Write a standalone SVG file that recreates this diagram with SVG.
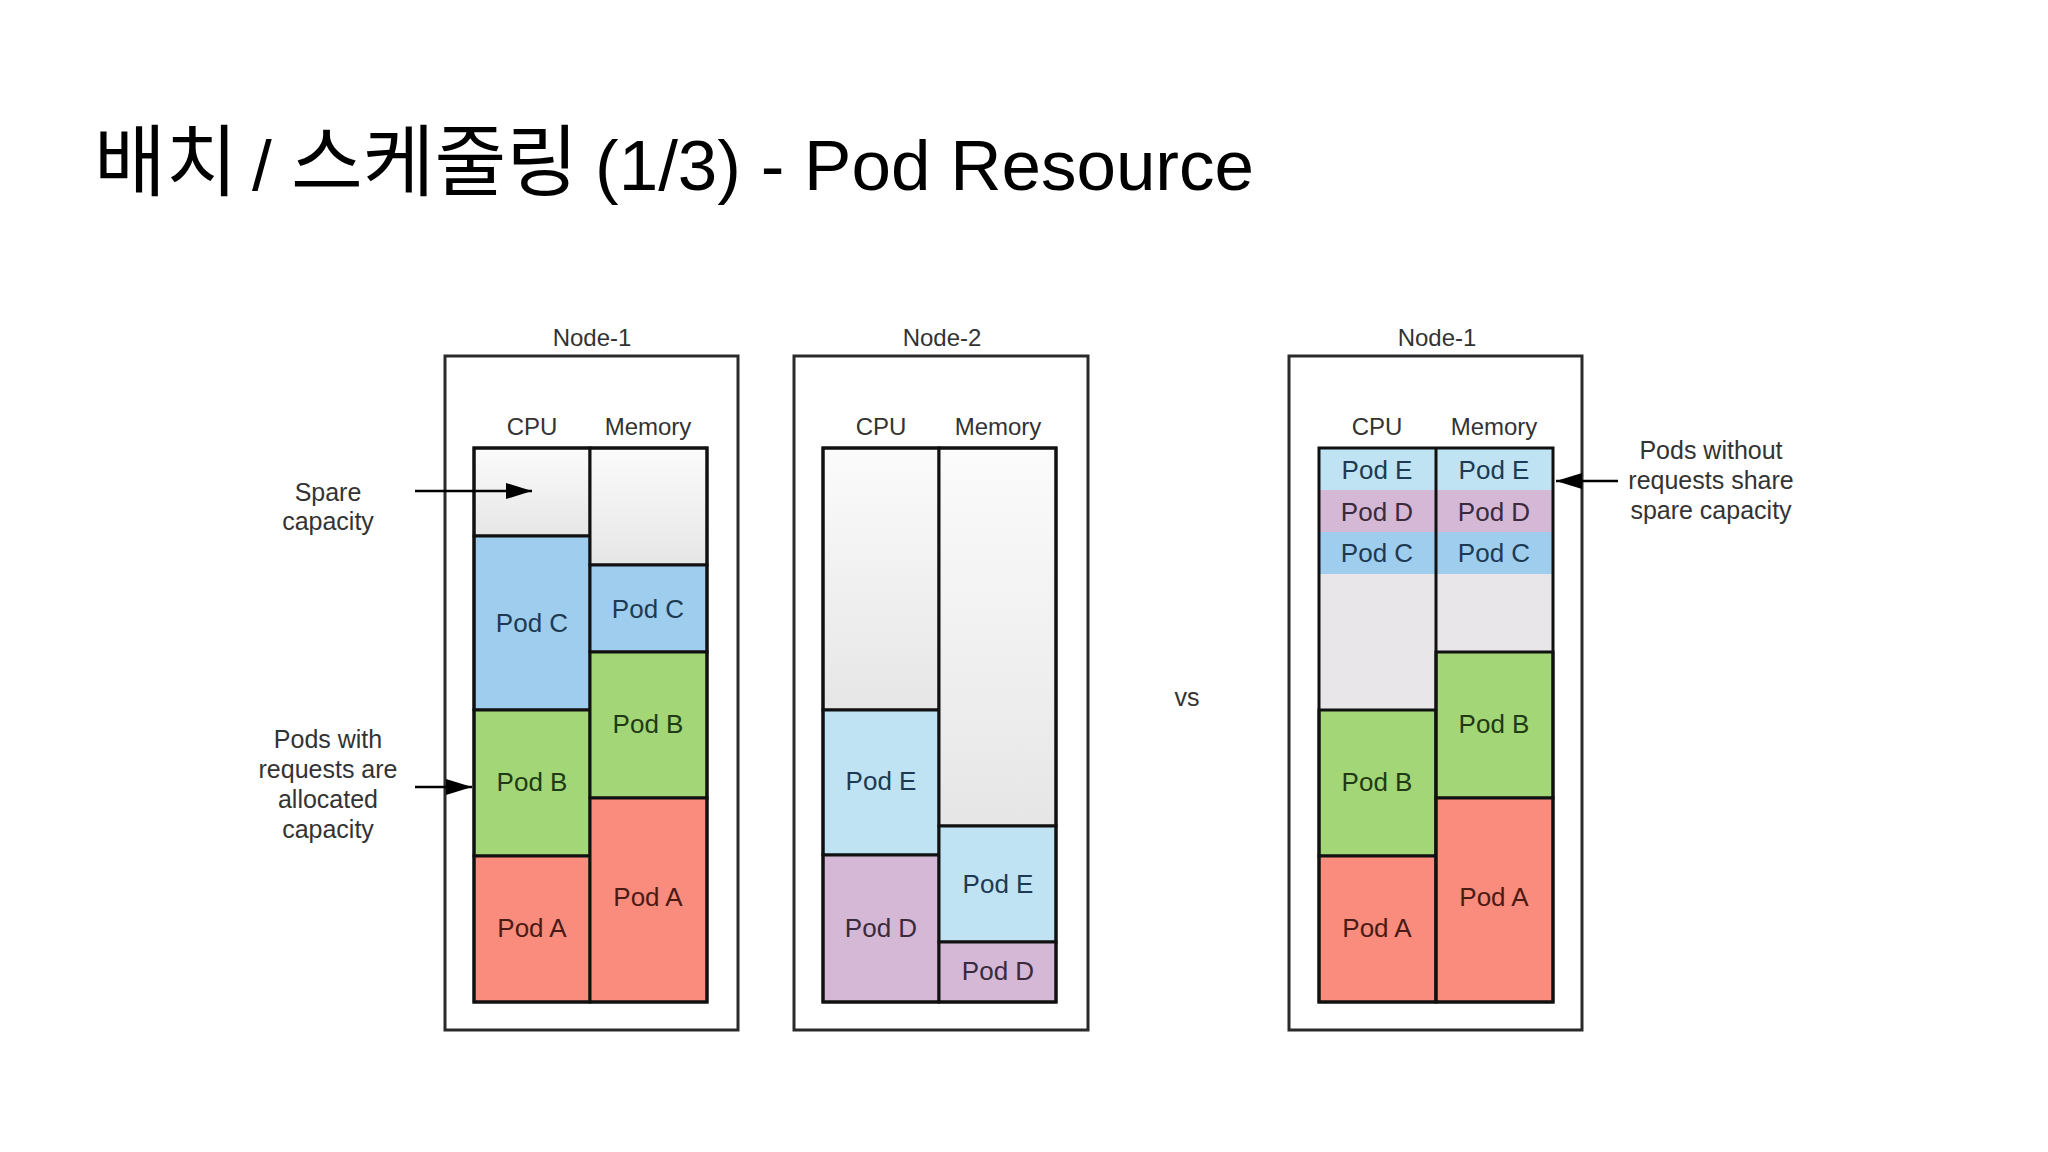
<svg xmlns="http://www.w3.org/2000/svg" width="2048" height="1152" viewBox="0 0 2048 1152">
<defs>
  <linearGradient id="spare" x1="0" y1="0" x2="0" y2="1">
    <stop offset="0" stop-color="#fbfbfb"/>
    <stop offset="1" stop-color="#e6e6e6"/>
  </linearGradient>
  <marker id="ah" markerUnits="userSpaceOnUse" markerWidth="26" markerHeight="16" refX="26" refY="8" orient="auto">
    <path d="M0,0 L26,8 L0,16 z" fill="#000"/>
  </marker>
  <style>
    .box{fill:#fff;stroke:#2a2a2a;stroke-width:3}
    .seg{stroke:#111;stroke-width:3}
    .frame{fill:none;stroke:#111;stroke-width:3}
    .sp{fill:url(#spare)}
    .c{fill:#9fcdee}
    .b{fill:#a2d677}
    .a{fill:#f98c7c}
    .e{fill:#bfe3f3}
    .d{fill:#d4b8d6}
    .lbl{font-family:"Liberation Sans",Arial,sans-serif;font-size:24px;fill:#333;text-anchor:middle}
    .ann{font-family:"Liberation Sans",Arial,sans-serif;font-size:25px;fill:#333;text-anchor:middle}
    .pod{font-family:"Liberation Sans",Arial,sans-serif;font-size:26px;text-anchor:middle}
    .tc{fill:#1d3a52}
    .tb{fill:#1f3a14}
    .ta{fill:#4a1a14}
    .te{fill:#1d3a52}
    .td{fill:#3a2a3c}
    .conn{stroke:#000;stroke-width:2.5;fill:none}
    .ko{font-family:"Noto Sans CJK KR",sans-serif;font-size:78px}
  </style>
</defs>
<rect width="2048" height="1152" fill="#fff"/>
<text y="190" font-family="'Liberation Sans','Noto Sans CJK KR',Arial,sans-serif" font-size="71" fill="#000"><tspan class="ko" x="94">배치</tspan><tspan x="252">/</tspan><tspan class="ko" x="291">스케줄링</tspan><tspan x="595">(1/3) - Pod Resource</tspan></text>

<g id="node-1">
  <rect class="box" x="445" y="356" width="293" height="674"/>
  <text class="lbl" x="592" y="346">Node-1</text>
  <text class="lbl" x="532" y="435">CPU</text>
  <text class="lbl" x="648" y="435">Memory</text>
  <rect class="seg sp" x="474" y="448" width="116" height="88"/>
  <rect class="seg c" x="474" y="536" width="116" height="174"/>
  <rect class="seg b" x="474" y="710" width="116" height="146"/>
  <rect class="seg a" x="474" y="856" width="116" height="146"/>
  <rect class="seg sp" x="590" y="448" width="117" height="117"/>
  <rect class="seg c" x="590" y="565" width="117" height="87"/>
  <rect class="seg b" x="590" y="652" width="117" height="146"/>
  <rect class="seg a" x="590" y="798" width="117" height="204"/>
  <rect class="frame" x="474" y="448" width="233" height="554"/>
  <text class="pod tc" x="532" y="632">Pod C</text>
  <text class="pod tb" x="532" y="791">Pod B</text>
  <text class="pod ta" x="532" y="937">Pod A</text>
  <text class="pod tc" x="648" y="618">Pod C</text>
  <text class="pod tb" x="648" y="733">Pod B</text>
  <text class="pod ta" x="648" y="906">Pod A</text>
</g>

<g id="node-2">
  <rect class="box" x="794" y="356" width="294" height="674"/>
  <text class="lbl" x="942" y="346">Node-2</text>
  <text class="lbl" x="881" y="435">CPU</text>
  <text class="lbl" x="998" y="435">Memory</text>
  <rect class="seg sp" x="823" y="448" width="116" height="262"/>
  <rect class="seg e" x="823" y="710" width="116" height="145"/>
  <rect class="seg d" x="823" y="855" width="116" height="147"/>
  <rect class="seg sp" x="939" y="448" width="117" height="378"/>
  <rect class="seg e" x="939" y="826" width="117" height="116"/>
  <rect class="seg d" x="939" y="942" width="117" height="60"/>
  <rect class="frame" x="823" y="448" width="233" height="554"/>
  <text class="pod te" x="881" y="790">Pod E</text>
  <text class="pod td" x="881" y="937">Pod D</text>
  <text class="pod te" x="998" y="893">Pod E</text>
  <text class="pod td" x="998" y="980">Pod D</text>
</g>

<text id="vs" class="ann" x="1187" y="706" font-size="23">vs</text>

<g id="node-1-shared">
  <rect class="box" x="1289" y="356" width="293" height="674"/>
  <text class="lbl" x="1437" y="346">Node-1</text>
  <text class="lbl" x="1377" y="435">CPU</text>
  <text class="lbl" x="1494" y="435">Memory</text>
  <rect fill="#e8e6e8" x="1319" y="448" width="234" height="262"/>
  <rect class="e" x="1319" y="448" width="234" height="42"/>
  <rect class="d" x="1319" y="490" width="234" height="42"/>
  <rect class="c" x="1319" y="532" width="234" height="42"/>
  <rect class="seg b" x="1319" y="710" width="117" height="146"/>
  <rect class="seg a" x="1319" y="856" width="117" height="146"/>
  <rect class="seg b" x="1436" y="652" width="117" height="146"/>
  <rect class="seg a" x="1436" y="798" width="117" height="204"/>
  <line class="seg" x1="1436" y1="448" x2="1436" y2="1002"/>
  <rect class="frame" x="1319" y="448" width="234" height="554"/>
  <text class="pod te" x="1377" y="479">Pod E</text>
  <text class="pod td" x="1377" y="521">Pod D</text>
  <text class="pod tc" x="1377" y="562">Pod C</text>
  <text class="pod te" x="1494" y="479">Pod E</text>
  <text class="pod td" x="1494" y="521">Pod D</text>
  <text class="pod tc" x="1494" y="562">Pod C</text>
  <text class="pod tb" x="1377" y="791">Pod B</text>
  <text class="pod ta" x="1377" y="937">Pod A</text>
  <text class="pod tb" x="1494" y="733">Pod B</text>
  <text class="pod ta" x="1494" y="906">Pod A</text>
</g>

<g id="annotations">
  <text class="ann" x="328" y="501">Spare</text>
  <text class="ann" x="328" y="530">capacity</text>
  <text class="ann" x="328" y="748">Pods with</text>
  <text class="ann" x="328" y="778">requests are</text>
  <text class="ann" x="328" y="808">allocated</text>
  <text class="ann" x="328" y="838">capacity</text>
  <text class="ann" x="1711" y="459">Pods without</text>
  <text class="ann" x="1711" y="489">requests share</text>
  <text class="ann" x="1711" y="519">spare capacity</text>
</g>

<g id="connectors">
  <line class="conn" x1="415" y1="491" x2="532" y2="491" marker-end="url(#ah)"/>
  <line class="conn" x1="415" y1="787" x2="472" y2="787" marker-end="url(#ah)"/>
  <line class="conn" x1="1618" y1="481" x2="1556" y2="481" marker-end="url(#ah)"/>
</g>
</svg>
